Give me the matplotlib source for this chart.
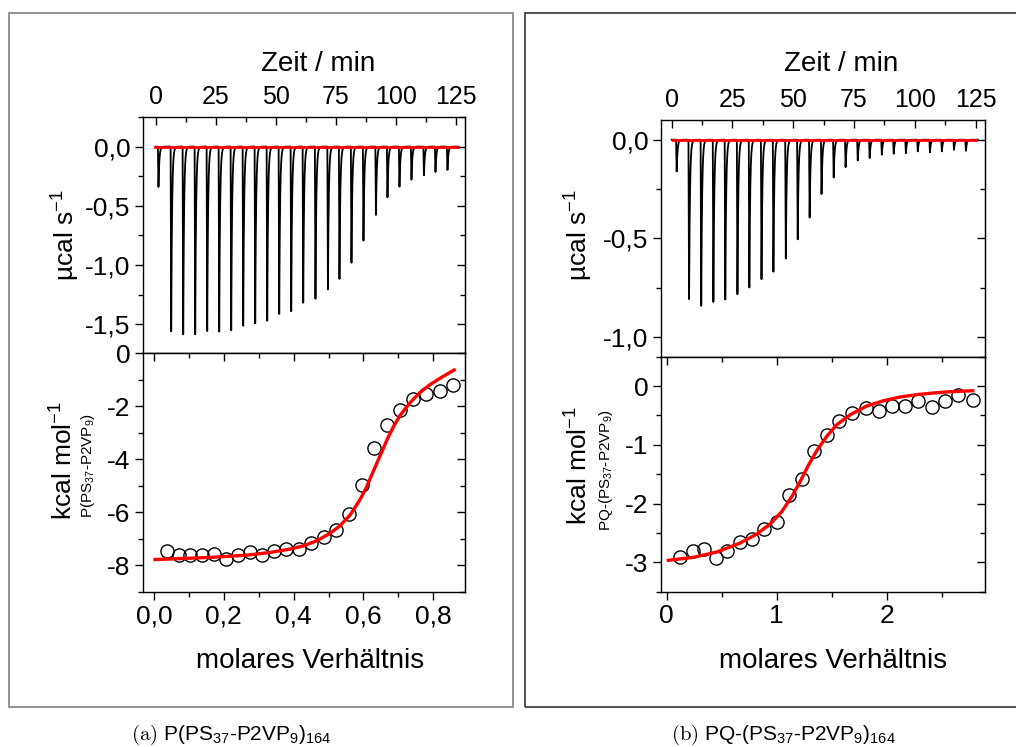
import matplotlib
matplotlib.use("Agg")
import matplotlib.pyplot as plt
from matplotlib.patches import Rectangle
from matplotlib.ticker import MultipleLocator, FuncFormatter
import numpy as np

plt.rcParams["font.family"] = ["Liberation Sans", "DejaVu Sans"]
plt.rcParams["mathtext.fontset"] = "custom"
plt.rcParams["mathtext.rm"] = "Liberation Sans"
plt.rcParams["mathtext.it"] = "Liberation Sans:italic"
plt.rcParams["mathtext.default"] = "regular"

# ── data: (a) P(PS37-P2VP9)164 ───────────────────────────────────────────────
inj_t_a = [0.8, 6.1, 11.1, 16.1, 21.1, 26.1, 31.1, 36.1, 41.1, 46.1, 51.1, 56.1,
           61.1, 66.2, 71.4, 76.2, 81.2, 86.2, 91.4, 96.2, 101.2, 106.2, 111.4,
           116.2, 121.2]
peak_a = [-0.34, -1.56, -1.585, -1.585, -1.557, -1.562, -1.551, -1.512, -1.492,
          -1.47, -1.413, -1.39, -1.318, -1.284, -1.205, -1.117, -0.98, -0.794,
          -0.577, -0.428, -0.338, -0.279, -0.242, -0.214, -0.197]

ratio_a = [0.038, 0.072, 0.104, 0.138, 0.172, 0.206, 0.240, 0.274, 0.309, 0.344,
           0.378, 0.415, 0.451, 0.486, 0.522, 0.559, 0.595, 0.631, 0.668, 0.706,
           0.743, 0.780, 0.819, 0.856]
heat_a = [-7.47, -7.63, -7.63, -7.63, -7.56, -7.75, -7.63, -7.49, -7.61, -7.47,
          -7.37, -7.38, -7.15, -6.92, -6.68, -6.05, -4.97, -3.57, -2.70, -2.14,
          -1.73, -1.53, -1.43, -1.18]

fit_r_a = [0.003, 0.075, 0.170, 0.266, 0.332, 0.390, 0.428, 0.466, 0.504, 0.533,
           0.562, 0.590, 0.609, 0.628, 0.648, 0.667, 0.686, 0.705, 0.734, 0.762,
           0.791, 0.825, 0.860]
fit_h_a = [-7.785, -7.75, -7.70, -7.62, -7.52, -7.39, -7.27, -7.08, -6.80, -6.51,
           -6.10, -5.53, -5.05, -4.46, -3.86, -3.28, -2.77, -2.34, -1.86, -1.48,
           -1.18, -0.90, -0.63]

# ── data: (b) PQ-(PS37-P2VP9)164 ─────────────────────────────────────────────
inj_t_b = [1.8, 6.9, 11.9, 16.9, 21.8, 26.8, 31.7, 36.7, 41.6, 46.7, 51.6, 56.5,
           61.4, 66.4, 71.3, 76.3, 81.2, 86.2, 91.1, 96.1, 101.0, 106.0, 110.9,
           115.9, 120.8]
peak_b = [-0.161, -0.808, -0.842, -0.822, -0.810, -0.783, -0.749, -0.707, -0.669,
          -0.602, -0.505, -0.395, -0.275, -0.192, -0.139, -0.105, -0.093, -0.076,
          -0.071, -0.068, -0.059, -0.064, -0.059, -0.051, -0.056]

ratio_b = [0.121, 0.236, 0.339, 0.445, 0.551, 0.666, 0.779, 0.888, 1.006, 1.115,
           1.227, 1.342, 1.455, 1.570, 1.688, 1.809, 1.930, 2.048, 2.164, 2.288,
           2.409, 2.530, 2.652, 2.782]
heat_b = [-2.915, -2.80, -2.77, -2.93, -2.80, -2.66, -2.60, -2.43, -2.32, -1.86,
          -1.58, -1.10, -0.83, -0.60, -0.45, -0.38, -0.43, -0.34, -0.34, -0.25,
          -0.35, -0.25, -0.16, -0.24]

fit_r_b = [0.015, 0.242, 0.455, 0.666, 0.818, 0.939, 1.045, 1.136, 1.212, 1.288,
           1.364, 1.455, 1.545, 1.667, 1.818, 1.970, 2.121, 2.273, 2.424, 2.576,
           2.782]
fit_h_b = [-2.966, -2.915, -2.825, -2.673, -2.52, -2.35, -2.14, -1.885, -1.63,
           -1.35, -1.10, -0.855, -0.66, -0.49, -0.34, -0.25, -0.186, -0.146,
           -0.118, -0.096, -0.079]

W, H = 1016, 747
TICK_FS = 19
TIME_FS = 18
LABEL_FS = 20


def thermogram(times, peaks, t_end=126.0):
    # sharp drop then fast exponential return to baseline for every injection
    t = np.arange(0.0, t_end, 0.01)
    y = np.zeros_like(t)
    for t0, h in zip(times, peaks):
        dt = t - t0
        drop = (dt >= 0) & (dt < 0.25)
        y[drop] += h * dt[drop] / 0.25
        back = dt >= 0.25
        y[back] += h * np.exp(-(dt[back] - 0.25) / 0.35)
    return t, y


def fmt(dec):
    return FuncFormatter(lambda v, p: f"{v:.{dec}f}".replace(".", ",").replace("-0,0", "0,0"))


def axes_px(x0, y0, x1, y1):
    return fig.add_axes([x0 / W, 1 - y1 / H, (x1 - x0) / W, (y1 - y0) / H])


def style_pair(ax_top, ax_bot, ymaj_t, ymin_t, ymaj_b, ymin_b, xmaj_b, xmin_b,
               dec_t, dec_b, dec_x):
    for ax in (ax_top, ax_bot):
        for s in ax.spines.values():
            s.set_linewidth(1.0)
        ax.tick_params(axis="y", which="both", direction="out", labelsize=TICK_FS,
                       left=True, right=False, pad=3)
        ax.tick_params(which="major", length=6, width=1)
        ax.tick_params(which="minor", length=3.5, width=1)
    # top panel: time axis on top, ticks inward
    ax_top.xaxis.tick_top()
    ax_top.xaxis.set_label_position("top")
    ax_top.tick_params(axis="x", which="both", direction="in", top=True,
                       bottom=False, labelsize=TIME_FS, pad=6)
    ax_top.xaxis.set_major_locator(MultipleLocator(25))
    ax_top.xaxis.set_minor_locator(MultipleLocator(12.5))
    ax_top.xaxis.set_major_formatter(FuncFormatter(lambda v, p: f"{v:.0f}"))
    ax_top.yaxis.set_major_locator(MultipleLocator(ymaj_t))
    ax_top.yaxis.set_minor_locator(MultipleLocator(ymin_t))
    ax_top.yaxis.set_major_formatter(fmt(dec_t))
    # bottom panel
    ax_bot.tick_params(axis="x", which="both", direction="out", labelsize=TICK_FS,
                       top=False, pad=3)
    ax_bot.xaxis.set_major_locator(MultipleLocator(xmaj_b))
    ax_bot.xaxis.set_minor_locator(MultipleLocator(xmin_b))
    ax_bot.xaxis.set_major_formatter(fmt(dec_x))
    ax_bot.yaxis.set_major_locator(MultipleLocator(ymaj_b))
    ax_bot.yaxis.set_minor_locator(MultipleLocator(ymin_b))
    ax_bot.yaxis.set_major_formatter(fmt(dec_b))
    # mirrored inward ticks on right / top
    for ax, ymaj, ymin in ((ax_top, ymaj_t, ymin_t), (ax_bot, ymaj_b, ymin_b)):
        sy = ax.secondary_yaxis("right")
        sy.yaxis.set_major_locator(MultipleLocator(ymaj))
        sy.yaxis.set_minor_locator(MultipleLocator(ymin))
        sy.tick_params(which="both", direction="in", labelright=False)
        sy.tick_params(which="major", length=6, width=1)
        sy.tick_params(which="minor", length=3.5, width=1)
    sx = ax_bot.secondary_xaxis("top")
    sx.xaxis.set_major_locator(MultipleLocator(xmaj_b))
    sx.xaxis.set_minor_locator(MultipleLocator(xmin_b))
    sx.tick_params(which="both", direction="in", labeltop=False)
    sx.tick_params(which="major", length=6, width=1)
    sx.tick_params(which="minor", length=3.5, width=1)


fig = plt.figure(figsize=(W / 100, H / 100), dpi=100)

# frames around the two sub-figures
fig.add_artist(Rectangle((9 / W, 1 - 707 / H), (513 - 9) / W, (707 - 12.5) / H,
                         transform=fig.transFigure, fill=False,
                         edgecolor="#8a8a8a", linewidth=1.3))
fig.add_artist(Rectangle((525 / W, 1 - 707 / H), (1030 - 525) / W, (707 - 12.5) / H,
                         transform=fig.transFigure, fill=False,
                         edgecolor="#444444", linewidth=1.3))

# ── (a) ──────────────────────────────────────────────────────────────────────
a_top = axes_px(143, 117, 465, 353.3)
a_bot = axes_px(143, 353.3, 465, 591.7)

t, y = thermogram(inj_t_a, peak_a)
a_top.plot(t, y, color="black", linewidth=1.3)
a_top.plot([-0.4, 125.8], [0, 0], color="red", linewidth=2.0)
a_top.set_xlim(-5.4, 128.75)
a_top.set_ylim(-1.745, 0.25)

a_bot.plot(ratio_a, heat_a, "o", mfc="none", mec="black", ms=9.5, mew=1.0)
a_bot.plot(fit_r_a, fit_h_a, color="red", linewidth=2.4)
a_bot.set_xlim(-0.0315, 0.891)
a_bot.set_ylim(-9, 0)

style_pair(a_top, a_bot, 0.5, 0.25, 2, 1, 0.2, 0.1, 1, 0, 1)

# ── (b) ──────────────────────────────────────────────────────────────────────
b_top = axes_px(661, 120, 985, 356.7)
b_bot = axes_px(661, 356.7, 985, 591.7)

t, y = thermogram(inj_t_b, peak_b)
b_top.plot(t, y, color="black", linewidth=1.3)
b_top.plot([0.4, 125.2], [0, 0], color="red", linewidth=2.0)
b_top.set_xlim(-4.4, 128.9)
b_top.set_ylim(-1.1, 0.1)

b_bot.plot(ratio_b, heat_b, "o", mfc="none", mec="black", ms=9.5, mew=1.0)
b_bot.plot(fit_r_b, fit_h_b, color="red", linewidth=2.4)
b_bot.set_xlim(-0.052, 2.894)
b_bot.set_ylim(-3.5, 0.5)

style_pair(b_top, b_bot, 0.5, 0.25, 1, 0.5, 1, 0.5, 1, 0, 0)

# ── labels ───────────────────────────────────────────────────────────────────
for xc in (318, 841):
    fig.text(xc / W, 1 - 64 / H, "Zeit / min", fontsize=LABEL_FS, ha="center", va="center")
for xc in (310, 833):
    fig.text(xc / W, 1 - 661 / H, "molares Verhältnis", fontsize=LABEL_FS,
             ha="center", va="center")

for xl, yc in ((66, 235), (579, 235)):
    fig.text(xl / W, 1 - yc / H, "µcal s$^{-1}$", fontsize=19, rotation=90,
             ha="center", va="center")
for xl, yc in ((64, 460), (579, 465)):
    fig.text(xl / W, 1 - yc / H, "kcal mol$^{-1}$", fontsize=19, rotation=90,
             ha="center", va="center")
fig.text(88 / W, 1 - 466 / H, "P(PS$_{37}$-P2VP$_9$)", fontsize=11,
         rotation=90, ha="center", va="center")
fig.text(606 / W, 1 - 470 / H, "PQ-(PS$_{37}$-P2VP$_9$)", fontsize=11,
         rotation=90, ha="center", va="center")

# captions
fig.text(231 / W, 1 - 735 / H, r"$\mathrm{(a)}$ P(PS$_{37}$-P2VP$_{9}$)$_{164}$",
         fontsize=15, ha="center", va="center", math_fontfamily="cm")
fig.text(783 / W, 1 - 735 / H, r"$\mathrm{(b)}$ PQ-(PS$_{37}$-P2VP$_{9}$)$_{164}$",
         fontsize=15, ha="center", va="center", math_fontfamily="cm")

fig.savefig("out.png", dpi=100)
